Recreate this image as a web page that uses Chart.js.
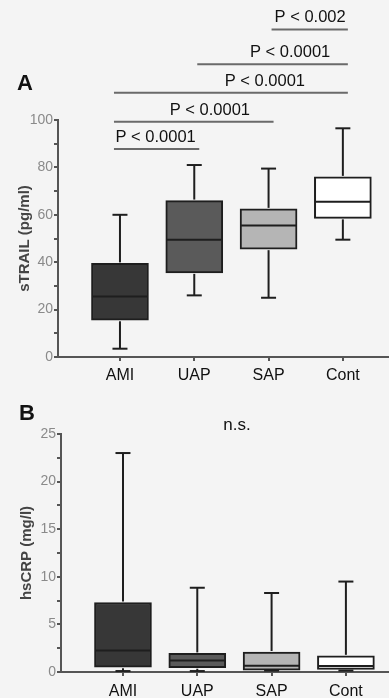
<!DOCTYPE html>
<html lang="en">
<head>
<meta charset="UTF-8" />
<title>sTRAIL and hsCRP by group</title>
<script src="https://cdn.jsdelivr.net/npm/chart.js"></script>
<style>
  html, body { margin: 0; padding: 0; background: #f4f4f4; }
  body { width: 389px; height: 698px; position: relative; overflow: hidden; }
  canvas { position: absolute; left: 0; }
  #chartA { top: 0; }
  #chartB { top: 385px; }
</style>
</head>
<body>
<canvas id="chartA" width="389" height="385"></canvas>
<canvas id="chartB" width="389" height="313"></canvas>
<script>
// ---- data ----
const categories = ["AMI", "UAP", "SAP", "Cont"];

// panel A: sTRAIL (pg/ml)
const trailMin = [3.5, 26, 25, 49.5];
const trailQ1 = [15.5, 35.5, 45.5, 58.5];
const trailMedian = [25.5, 49.5, 55.5, 65.5];
const trailQ3 = [39.5, 66, 62.5, 76];
const trailMax = [60, 81, 79.5, 96.5];
const trailTicks = [0, 20, 40, 60, 80, 100];

// panel B: hsCRP (mg/l)
const crpMin = [0.1, 0.1, 0.15, 0.15];
const crpQ1 = [0.5, 0.45, 0.2, 0.28];
const crpMedian = [2.25, 1.2, 0.65, 0.63];
const crpQ3 = [7.3, 1.95, 2.1, 1.7];
const crpMax = [23, 8.85, 8.3, 9.5];
const crpTicks = [0, 5, 10, 15, 20, 25];

// pairwise comparisons shown above panel A
const pLabels = ["P < 0.0001", "P < 0.0001", "P < 0.0001", "P < 0.0001", "P < 0.002"];
const pFrom = [0, 0, 0, 1, 2];
const pTo = [1, 2, 3, 3, 3];

const boxFills = ["#373737", "#5a5a5a", "#b5b5b5", "#ffffff"];
const FONT = "'Liberation Sans', Arial, sans-serif";

// whiskers, caps and median lines for the box plot
const boxPlot = {
  id: "boxPlot",
  afterDatasetsDraw(chart, args, opts) {
    const { ctx, scales: { x, y } } = chart;
    const half = opts.boxWidth / 2, cap = opts.capWidth / 2;
    const seg = (x1, y1, x2, y2) => {
      ctx.beginPath(); ctx.moveTo(x1, y1); ctx.lineTo(x2, y2); ctx.stroke();
    };
    ctx.save();
    ctx.strokeStyle = "#1e1e1e";
    ctx.lineWidth = 2;
    opts.median.forEach((m, i) => {
      const cx = x.getPixelForValue(i);
      const yMax = y.getPixelForValue(opts.max[i]);
      const yMin = y.getPixelForValue(opts.min[i]);
      seg(cx, y.getPixelForValue(opts.q3[i]) - 1, cx, yMax);
      seg(cx - cap, yMax, cx + cap, yMax);
      seg(cx, y.getPixelForValue(opts.q1[i]) + 1, cx, yMin);
      seg(cx - cap, yMin, cx + cap, yMin);
      const ym = y.getPixelForValue(m);
      seg(cx - half + 1, ym, cx + half - 1, ym);
    });
    ctx.restore();
  }
};

// panel letter, significance brackets and other free text
const annotations = {
  id: "annotations",
  afterDraw(chart, args, opts) {
    const { ctx, scales: { x, y } } = chart;
    ctx.save();
    ctx.fillStyle = "#111";
    ctx.font = "bold 22px " + FONT;
    ctx.textAlign = "left";
    ctx.textBaseline = "alphabetic";
    ctx.fillText(opts.letter, opts.letterX, opts.letterY);

    if (opts.note) {
      ctx.font = "17px " + FONT;
      ctx.textAlign = "center";
      ctx.fillText(opts.note, opts.noteX, opts.noteY);
    }

    (opts.brackets || []).forEach((lab, i) => {
      const yl = y.getPixelForValue(opts.levels[i]);
      const x1 = x.getPixelForValue(pFrom[i]) + (pFrom[i] === 0 ? -6 : 3);
      const x2 = x.getPixelForValue(pTo[i]) + 5;
      ctx.strokeStyle = "#6a6a6a";
      ctx.lineWidth = 2;
      ctx.beginPath(); ctx.moveTo(x1, yl); ctx.lineTo(x2, yl); ctx.stroke();
      ctx.font = "16.5px " + FONT;
      ctx.textAlign = "center";
      ctx.fillStyle = "#111";
      ctx.fillText(lab, x.getPixelForValue(opts.labelAt[i]), yl - 7);
    });
    ctx.restore();
  }
};

function makeChart(id, cfg) {
  const data = categories.map((c, i) => ({ x: i, y: [cfg.q1[i], cfg.q3[i]] }));
  return new Chart(document.getElementById(id), {
    type: "bar",
    data: {
      datasets: [{
        data,
        backgroundColor: boxFills,
        borderColor: "#1e1e1e",
        borderWidth: 2,
        borderSkipped: false,
        barThickness: 57
      }]
    },
    options: {
      responsive: false,
      animation: false,
      devicePixelRatio: 1,
      layout: { padding: { top: cfg.padTop, left: 0, right: 0, bottom: 0 } },
      scales: {
        x: {
          type: "linear",
          offset: false,
          min: -0.834,
          max: cfg.xMax,
          afterBuildTicks: (s) => { s.ticks = categories.map((c, i) => ({ value: i })); },
          afterFit: (s) => { s.height = cfg.xHeight; },
          ticks: {
            callback: (v) => categories[v],
            color: "#111",
            font: { family: FONT, size: 16 },
            padding: cfg.xPad,
            maxRotation: 0
          },
          grid: { offset: false, drawOnChartArea: false, tickLength: 4, color: "#555", lineWidth: 2 },
          border: { color: "#555", width: 2 }
        },
        y: {
          min: 0,
          max: cfg.yMax,
          afterFit: (s) => { s.width = cfg.yWidth; },
          ticks: {
            stepSize: cfg.step,
            callback: (v) => (cfg.ticks.includes(v) ? v : ""),
            color: "#8a8a8a",
            font: { family: FONT, size: 14 },
            padding: 1
          },
          grid: { drawOnChartArea: false, tickLength: 4, color: "#555", lineWidth: 2 },
          border: { color: "#555", width: 2 },
          title: {
            display: true,
            text: cfg.title,
            color: "#444",
            font: { family: FONT, size: 15, weight: "bold" },
            padding: { top: cfg.titlePad, bottom: 0 }
          }
        }
      },
      plugins: {
        legend: { display: false },
        tooltip: { enabled: false },
        boxPlot: {
          min: cfg.min, q1: cfg.q1, median: cfg.median, q3: cfg.q3, max: cfg.max,
          boxWidth: 57, capWidth: 15
        },
        annotations: cfg.annotations
      }
    },
    plugins: [boxPlot, annotations]
  });
}

makeChart("chartA", {
  min: trailMin, q1: trailQ1, median: trailMedian, q3: trailQ3, max: trailMax,
  ticks: trailTicks, step: 10, yMax: 100,
  title: "sTRAIL (pg/ml)", titlePad: 16,
  padTop: 120, xHeight: 28, xPad: 5, yWidth: 58, xMax: 3.621,
  annotations: {
    letter: "A", letterX: 17, letterY: 90,
    brackets: pLabels,
    levels: [87.8, 99.3, 111.5, 123.5, 138.2],
    labelAt: [0.48, 1.21, 1.95, 2.29, 2.56]
  }
});

makeChart("chartB", {
  min: crpMin, q1: crpQ1, median: crpMedian, q3: crpQ3, max: crpMax,
  ticks: crpTicks, step: 2.5, yMax: 25,
  title: "hsCRP (mg/l)", titlePad: 18,
  padTop: 49, xHeight: 26, xPad: 6, yWidth: 61, xMax: 3.58,
  annotations: {
    letter: "B", letterX: 19, letterY: 35,
    note: "n.s.", noteX: 237, noteY: 45
  }
});
</script>
</body>
</html>
